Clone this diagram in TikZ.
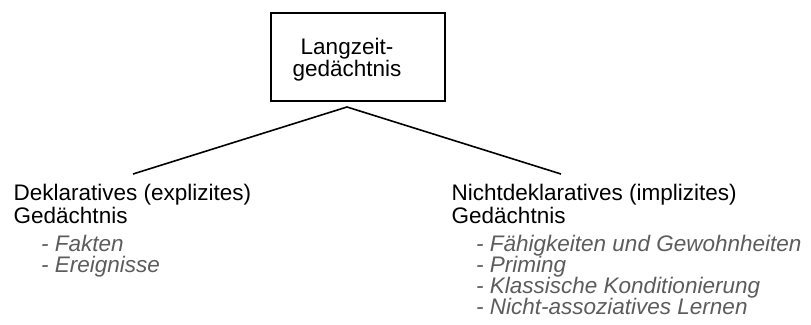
\documentclass[tikz,border=0pt]{standalone}
\usepackage{fontspec}
\setmainfont{Liberation Sans}
\definecolor{itemgrey}{HTML}{5C5C5C}
\begin{document}
\begin{tikzpicture}[x=1pt,y=-1pt,
  rootframe/.style={draw, line width=1.5pt, minimum width=174pt, minimum height=88pt,
    inner sep=0pt},
  % the base anchor of a multi-line node sits on its last line
  roottext/.style={anchor=base, align=center, inner sep=0pt,
    font=\fontsize{22.5}{22}\selectfont},
  heading/.style={anchor=base west, align=left, inner sep=0pt,
    font=\fontsize{22.5}{22.5}\selectfont},
  itemlist/.style={anchor=base west, align=left, inner sep=0pt, text=itemgrey,
    font=\fontsize{22.5}{21}\selectfont\itshape},
  branch/.style={line width=1.6pt}]
\useasboundingbox (0,0) rectangle (811,324);

% root of the tree
\node[rootframe] (rootframe) at (358,57) {};
\node[roottext] (root) at (347,76) {Langzeit-\\ged\"achtnis};

% the two kinds of long-term memory
\node[heading] (decl) at (13.5,223) {Deklaratives (explizites)\\Ged\"achtnis};
\node[heading] (nondecl) at (451.5,223) {Nichtdeklaratives (implizites)\\Ged\"achtnis};

% examples of each kind
\node[itemlist] (declitems) at (41,272) {- Fakten\\- Ereignisse};
\node[itemlist] (nondeclitems) at (476,314) {- F\"ahigkeiten und Gewohnheiten\\- Priming\\- Klassische Konditionierung\\- Nicht-assoziatives Lernen};

% branching lines
\coordinate (apex) at (347,107);
\coordinate (declend) at (133,174);
\coordinate (nondeclend) at (561,174);
\draw[branch] (declend) -- (apex) -- (nondeclend);
\end{tikzpicture}
\end{document}
